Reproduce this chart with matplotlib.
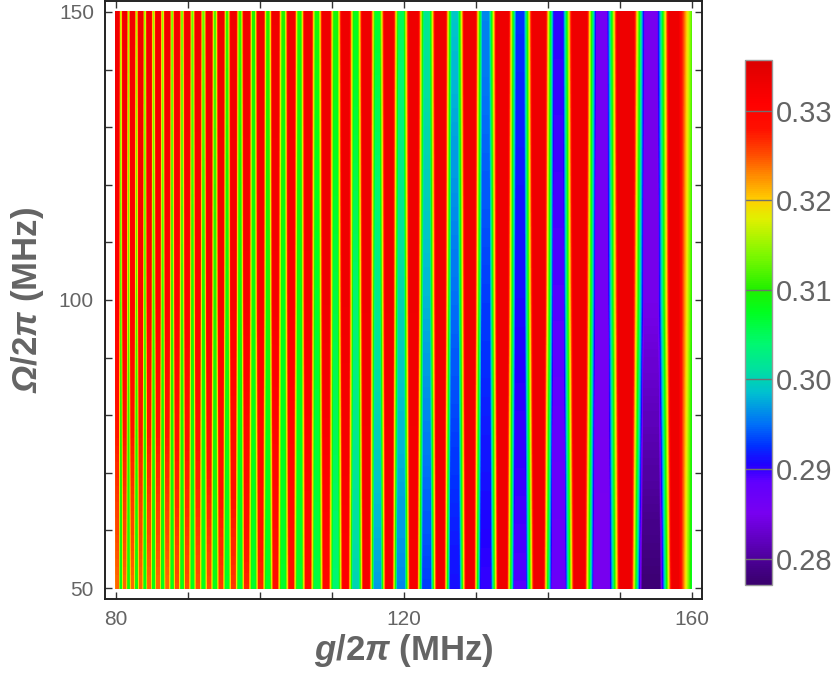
import numpy as np
import matplotlib
matplotlib.use("Agg")
import matplotlib.pyplot as plt
from matplotlib.colors import LinearSegmentedColormap, Normalize
from matplotlib.cm import ScalarMappable

plt.rcParams['font.family'] = ['Liberation Sans', 'DejaVu Sans']
plt.rcParams['mathtext.fontset'] = 'custom'
plt.rcParams['mathtext.rm'] = 'Liberation Sans:bold'
plt.rcParams['mathtext.bf'] = 'Liberation Sans:bold'
plt.rcParams['mathtext.it'] = 'Liberation Sans:italic:bold'
plt.rcParams['mathtext.bfit'] = 'Liberation Sans:italic:bold'

# stripe extrema (g/2pi in MHz)
g_max = [80.15, 81.20, 82.28, 83.42, 84.60, 85.84, 87.13, 88.47, 89.89, 91.37,
         92.93, 94.58, 96.31, 98.15, 100.09, 102.15, 104.34, 106.68, 109.19, 111.88,
         114.78, 117.92, 121.34, 125.06, 129.16, 133.68, 138.72, 144.37, 150.77, 158.10]
g_min = [80.67, 81.74, 82.85, 84.01, 85.21, 86.47, 87.80, 89.18, 90.62, 92.15,
         93.75, 95.43, 97.22, 99.10, 101.10, 103.23, 105.49, 107.91, 110.51, 113.31,
         116.32, 119.60, 123.16, 127.06, 131.36, 136.13, 141.46, 147.46, 154.30]

omega_rows = [50, 100, 150]

# peak values on each row (Omega = 50, 100, 150)
max_50 = [0.324, 0.324, 0.324, 0.324, 0.324, 0.324, 0.324, 0.325, 0.325, 0.325,
          0.325, 0.326, 0.326, 0.327, 0.327, 0.328, 0.328, 0.329, 0.330, 0.331,
          0.332, 0.332, 0.332, 0.333, 0.333, 0.333, 0.333, 0.333, 0.333, 0.333]
max_100 = [0.331] * 10 + [0.332] * 8 + [0.333] * 12
max_150 = [0.333] * 30

# dip values on each row
min_50 = [0.308, 0.308, 0.308, 0.308, 0.308, 0.308, 0.308, 0.308, 0.308, 0.308,
          0.308, 0.307, 0.307, 0.307, 0.307, 0.307, 0.307, 0.306, 0.304, 0.300,
          0.297, 0.296, 0.293, 0.291, 0.290, 0.289, 0.287, 0.285, 0.2775]
min_100 = [0.312, 0.312, 0.312, 0.312, 0.311, 0.311, 0.311, 0.311, 0.310, 0.310,
           0.310, 0.309, 0.309, 0.309, 0.309, 0.308, 0.308, 0.307, 0.306, 0.304,
           0.302, 0.300, 0.298, 0.295, 0.293, 0.291, 0.289, 0.286, 0.2848]
min_150 = [0.316, 0.316, 0.316, 0.315, 0.315, 0.315, 0.314, 0.314, 0.313, 0.313,
           0.312, 0.311, 0.311, 0.310, 0.310, 0.310, 0.309, 0.309, 0.309, 0.308,
           0.307, 0.305, 0.302, 0.299, 0.296, 0.2925, 0.290, 0.286, 0.285]

# values at the left (g=80) and right (g=160) edges, rows 50/100/150
edge_left = [0.323, 0.330, 0.333]
edge_right = [0.306, 0.309, 0.311]

vmin, vmax = 0.2771, 0.3357
cb_ticks = [0.28, 0.29, 0.30, 0.31, 0.32, 0.33]

# rainbow colour stops
cstops = [(0.2771, '#3a006e'), (0.2790, '#45008a'), (0.2820, '#6000c0'),
          (0.2850, '#7800f0'), (0.2885, '#6000ff'), (0.2905, '#2000ff'),
          (0.2925, '#0030ff'), (0.2950, '#0070f8'), (0.2985, '#00c0d0'),
          (0.3010, '#00e0a0'), (0.3040, '#00f870'), (0.3075, '#00ff20'),
          (0.3100, '#20f000'), (0.3140, '#80f800'), (0.3180, '#e0f000'),
          (0.3200, '#ffd000'), (0.3220, '#ffa000'), (0.3250, '#ff5000'),
          (0.3280, '#ff1000'), (0.3310, '#ff0000'), (0.3357, '#dc0000')]
cmap = LinearSegmentedColormap.from_list(
    'rainbow_mma', [((v - vmin) / (vmax - vmin), c) for v, c in cstops])
norm = Normalize(vmin, vmax)

# how long peaks / dips stay flat (share of the gap to the neighbour), per row
flat_peak = [0.2, 0.27, 0.31]
flat_dip = [0.36, 0.29, 0.25]

g_all = np.concatenate([g_max, g_min])
is_peak = np.concatenate([np.ones(len(g_max), bool), np.zeros(len(g_min), bool)])
order = np.argsort(g_all)
gx, peak = g_all[order], is_peak[order]

X, Z = [], []
for k, (mx, mn) in enumerate([(max_50, min_50), (max_100, min_100), (max_150, min_150)]):
    vals = np.concatenate([mx, mn])[order]
    xs, zs = [80.0], [edge_left[k]]
    for i, x in enumerate(gx):
        f = flat_peak[k] if peak[i] else flat_dip[k]
        left = x - f * (x - gx[i - 1]) if i > 0 else x
        right = x + f * (gx[i + 1] - x) if i < len(gx) - 1 else x
        xs += [left, right]
        zs += [vals[i], vals[i]]
    xs.append(160.0)
    zs.append(edge_right[k])
    X.append(xs)
    Z.append(zs)
X, Z = np.array(X), np.array(Z)
Y = np.repeat(np.array(omega_rows, float)[:, None], X.shape[1], axis=1)

fig = plt.figure(figsize=(8.35, 6.81), dpi=100)
ax = fig.add_axes([105 / 835, 1 - 599 / 681, (702 - 105) / 835, (599 - 1.5) / 681])

cs = ax.contourf(X, Y, Z, levels=np.linspace(vmin, vmax, 300), cmap=cmap,
                 norm=norm, extend='both')
cs.set_edgecolor('face')
cs.set_linewidth(0.3)

px_x = (691.7 - 116) / 80
px_y = (588 - 12) / 100
ax.set_xlim(80 - 11 / px_x, 160 + 10.3 / px_x)
ax.set_ylim(50 - 11 / px_y, 150 + 10.5 / px_y)

gray = '#646464'
ax.set_xticks(np.arange(80, 161, 10))
ax.set_xticklabels(['80', '', '', '', '120', '', '', '', '160'])
ax.set_yticks(np.arange(50, 151, 10))
ax.set_yticklabels(['50', '', '', '', '', '100', '', '', '', '', '150'])
ax.tick_params(direction='in', length=5, width=1, color='#333333', top=True, right=True,
               labelsize=15, labelcolor=gray, pad=8)
for s in ax.spines.values():
    s.set_linewidth(1.4)
    s.set_color('#222222')

ax.set_xlabel(r'$\mathbfit{g}$/2$\mathbfit{\pi}$ (MHz)', fontsize=25, fontweight='bold',
              color=gray, labelpad=2)
ax.set_ylabel(r'$\mathbfit{\Omega}$/2$\mathbfit{\pi}$ (MHz)', fontsize=25, fontweight='bold',
              color=gray)
ax.yaxis.set_label_coords(-0.098, 0.5)

cax = fig.add_axes([745 / 835, 1 - 584.6 / 681, 26.5 / 835, 525 / 681])
cb = fig.colorbar(ScalarMappable(norm=norm, cmap=cmap), cax=cax)
cb.set_ticks(cb_ticks)
cb.set_ticklabels(['0.28', '0.29', '0.30', '0.31', '0.32', '0.33'])
cb.outline.set_edgecolor('#9a9a9a')
cb.outline.set_linewidth(1)
for t in cb_ticks:
    cax.axhline(t, color='#707070', lw=1)
cax.tick_params(length=0, labelsize=21, labelcolor=gray, pad=3)

fig.savefig('out.png', dpi=100)
